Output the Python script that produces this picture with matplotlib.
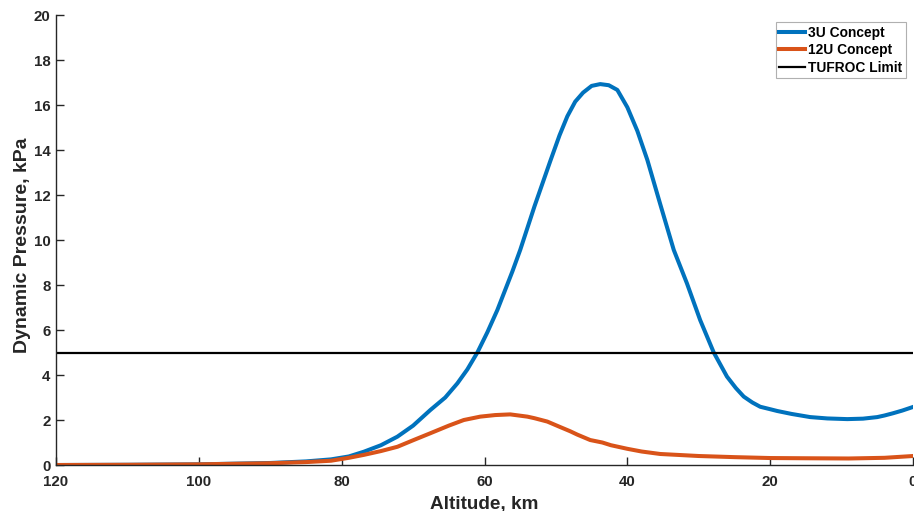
#!/usr/bin/env python3
"""Dynamic pressure vs altitude for the 3U / 12U concepts, with the TUFROC limit."""

import matplotlib
matplotlib.use('Agg')
import matplotlib.pyplot as plt

# ── Data ─────────────────────────────────────────────────────────────────────
alt_3u = [120, 110, 100, 90, 85, 81.5, 79, 76.9, 74.5, 72.2, 70, 67.6, 65.5,
          63.8, 62.4, 61.0, 59.6, 58.2, 56.1, 55.0, 53.0, 50.8, 49.5, 48.4,
          47.3, 46.2, 45.0, 43.8, 42.6, 41.4, 40.0, 38.6, 37.2, 35.4, 33.5,
          31.65, 29.8, 27.9, 26.05, 24.8, 23.7, 22.5, 21.4, 20.0, 19.0, 17.0,
          14.4, 12.0, 9.2, 7.0, 5.0, 4.0, 2.8, 1.5, 0.0]
q_3u = [0.0, 0.01, 0.03, 0.09, 0.16, 0.25, 0.38, 0.59, 0.88, 1.26, 1.75, 2.44,
        3.0, 3.63, 4.25, 5.0, 5.9, 6.89, 8.6, 9.56, 11.5, 13.5, 14.65, 15.5,
        16.15, 16.55, 16.85, 16.93, 16.88, 16.67, 15.9, 14.85, 13.56, 11.6,
        9.56, 8.07, 6.44, 5.0, 3.93, 3.42, 3.04, 2.78, 2.59, 2.48, 2.4, 2.27,
        2.13, 2.07, 2.04, 2.06, 2.13, 2.2, 2.3, 2.42, 2.58]

alt_12u = [120, 110, 100, 90, 85, 81.5, 79, 76.9, 74.5, 72.2, 70, 67.6, 65,
           62.9, 60.6, 58.5, 56.4, 54.0, 53.0, 51.2, 49.5, 48.0, 47.0, 45.2,
           43.5, 42.3, 40.0, 38.0, 35.4, 30.0, 25.0, 20.0, 15.0, 9.0, 4.0,
           0.0]
q_12u = [0.0, 0.01, 0.03, 0.08, 0.13, 0.19, 0.32, 0.45, 0.62, 0.81, 1.1,
         1.41, 1.75, 2.0, 2.15, 2.22, 2.25, 2.15, 2.08, 1.93, 1.7, 1.5, 1.35,
         1.11, 1.0, 0.88, 0.72, 0.6, 0.49, 0.40, 0.35, 0.31, 0.30, 0.29,
         0.32, 0.40]

tufroc_limit = 5.0

x_ticks = [120, 100, 80, 60, 40, 20, 0]
y_ticks = list(range(0, 21, 2))

col_3u = '#0072BD'
col_12u = '#D95319'
col_axis = '#262626'

plt.rcParams['font.family'] = ['Liberation Sans', 'DejaVu Sans']
plt.rcParams['font.weight'] = 'bold'

# ── Figure ───────────────────────────────────────────────────────────────────
fig = plt.figure(figsize=(9.14, 5.11), dpi=100)
ax = fig.add_axes([0.0613, 0.090, 0.9376, 0.8806])

ax.plot(alt_3u, q_3u, color=col_3u, lw=2.9, label='3U Concept',
        solid_joinstyle='round')
ax.plot(alt_12u, q_12u, color=col_12u, lw=2.9, label='12U Concept',
        solid_joinstyle='round')
ax.axhline(tufroc_limit, color='black', lw=1.6, label='TUFROC Limit')

ax.set_xlim(120, 0)
ax.set_ylim(0, 20)
ax.set_xticks(x_ticks)
ax.set_yticks(y_ticks)

for side in ('top', 'right'):
    ax.spines[side].set_visible(False)
for side in ('left', 'bottom'):
    ax.spines[side].set_color(col_axis)
    ax.spines[side].set_linewidth(1.0)

ax.tick_params(direction='in', length=6, width=1.0, color=col_axis,
               labelcolor=col_axis, labelsize=10.8)
ax.tick_params(axis='x', pad=7)
ax.tick_params(axis='y', pad=4)

ax.set_xlabel('Altitude, km', fontsize=13.6, fontweight='bold',
              color=col_axis, labelpad=5)
ax.set_ylabel('Dynamic Pressure, kPa', fontsize=14, fontweight='bold',
              color=col_axis)
ax.yaxis.set_label_coords(-0.029, 0.489)

leg = ax.legend(loc='upper right', bbox_to_anchor=(0.9917, 0.984),
                fontsize=9.9, handlelength=1.85, handletextpad=0.25,
                labelspacing=0.25, borderpad=0.25, borderaxespad=0.0,
                frameon=True, fancybox=False, framealpha=1.0)
leg.get_frame().set_edgecolor('#b0b0b0')
leg.get_frame().set_linewidth(0.8)
for txt in leg.get_texts():
    txt.set_fontweight('bold')
    txt.set_color('black')

fig.savefig('out.png', dpi=100)
